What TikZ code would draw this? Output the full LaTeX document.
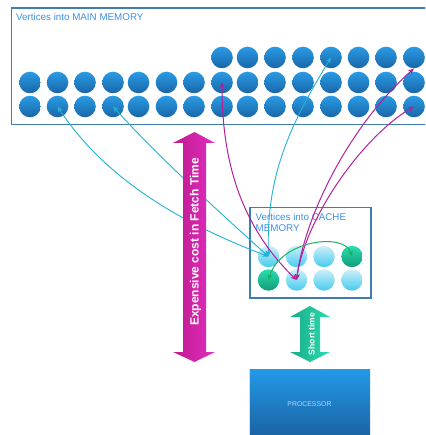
\documentclass[tikz,border=0pt]{standalone}
\usepackage{fontspec}
\setmainfont{Liberation Sans}
\usetikzlibrary{arrows.meta}

\definecolor{memtop}{HTML}{2A9BE6}
\definecolor{membot}{HTML}{1966A6}
\definecolor{cachetop}{HTML}{CDEFFA}
\definecolor{cachebot}{HTML}{46CBEE}
\definecolor{hottop}{HTML}{2ADDB2}
\definecolor{hotbot}{HTML}{129C78}
\definecolor{frame}{HTML}{3E7DB2}
\definecolor{titleblue}{HTML}{3D8FE8}
\definecolor{linkcyan}{HTML}{22B2D4}
\definecolor{linkmag}{HTML}{B4209A}
\definecolor{linkgreen}{HTML}{1EB060}
\definecolor{fetchL}{HTML}{BE1A8E}
\definecolor{fetchR}{HTML}{E22EC0}
\definecolor{shortL}{HTML}{17AC88}
\definecolor{shortR}{HTML}{2CDCB0}
\definecolor{cpuTop}{HTML}{2399E8}
\definecolor{cpuBot}{HTML}{1A60A0}
\definecolor{cpuText}{HTML}{B8D6F2}

\tikzset{
  memdot/.style={circle, inner sep=0pt, minimum size=21.6pt, top color=memtop, bottom color=membot},
  cachedot/.style={circle, inner sep=0pt, minimum size=21.4pt, top color=cachetop, bottom color=cachebot},
  hotdot/.style={circle, inner sep=0pt, minimum size=21.4pt, top color=hottop, bottom color=hotbot},
  frameline/.style={draw=frame, line width=1.2pt},
  boxtitle/.style={inner sep=0pt, text=titleblue, font=\fontsize{9.8}{11}\selectfont},
  bothtips/.style={{Stealth[length=6pt, width=5pt]}-{Stealth[length=6pt, width=5pt]}},
  cyanlink/.style={draw=linkcyan, line width=0.9pt, bothtips},
  maglink/.style={draw=linkmag, line width=1pt, bothtips},
  greenlink/.style={draw=linkgreen, line width=1pt, bothtips},
  arrowtext/.style={inner sep=0pt, text=white, rotate=90, font=\bfseries}
}

\begin{document}
\begin{tikzpicture}[x=1pt, y=-1pt]
\useasboundingbox (0,0) rectangle (425,435);
\clip (0,0) rectangle (425,435);

% main memory frame (runs off the right edge)
\draw[frameline, fill=white] (11.5,8) rectangle (440,124.5);
\node[boxtitle, anchor=base west] (maintitle) at (16,21) {Vertices into MAIN MEMORY};

% vertices held in main memory: rows 2 and 3 are full, row 1 starts at column 8
\foreach \c/\x in {1/30,2/57.5,3/85,4/113,5/138.5,6/166.5,7/194,8/222,9/247.5,10/275,11/303,12/331,13/358.5,14/386,15/414}{
  \node[memdot] (m2-\c) at (\x,82.5) {};
  \node[memdot] (m3-\c) at (\x,106.5) {};
  \ifnum\c>7
    \node[memdot] (m1-\c) at (\x,57.5) {};
  \fi
}

% cache frame and its vertices
\draw[frameline] (250,207.5) rectangle (371,298);
\node[boxtitle, anchor=base west] (cachetitleA) at (255.5,220.7) {Vertices into CACHE};
\node[boxtitle, anchor=base west] (cachetitleB) at (255.5,231.7) {MEMORY};

\node[cachedot] (k1-1) at (268.5,256.5) {};
\node[cachedot] (k1-2) at (296.5,256.5) {};
\node[cachedot] (k1-3) at (324,256.5) {};
\node[hotdot]   (k1-4) at (352,256.5) {};
\node[hotdot]   (k2-1) at (268.5,280) {};
\node[cachedot] (k2-2) at (296.5,280) {};
\node[cachedot] (k2-3) at (324,280) {};
\node[cachedot] (k2-4) at (352,280) {};

% links between main memory and cache
\draw[cyanlink] (m3-2.center) .. controls (107.5,182.5) and (188,226) .. (k1-1.center);
\draw[cyanlink] (m3-4.center) .. controls (158,156.5) and (218,211) .. (k1-1.center);
\draw[cyanlink] (m1-12.center) .. controls (290,125) and (266,175) .. (k1-1.center);

\draw[maglink] (m2-8.center) .. controls (222,160) and (240,225) .. (k2-2.center);
\draw[maglink] (m1-15.south) .. controls (350,125) and (305,215) .. (k2-2.center);
\draw[maglink] (m3-15.center) .. controls (365,135) and (306,215) .. (k2-2.center);

\draw[greenlink] (k2-1.center) .. controls (280,240) and (345,232) .. (k1-4.center);

% expensive fetch arrow
\path[left color=fetchL, right color=fetchR]
  (194.5,132) -- (215,143) -- (206,143) -- (206,352) -- (215,352) -- (194.5,362)
  -- (173,352) -- (183,352) -- (183,143) -- (173,143) -- cycle;
\node[arrowtext, font=\bfseries\fontsize{12}{14}\selectfont] (fetchtext) at (195.5,242) {Expensive cost in Fetch Time};

% short access arrow
\path[left color=shortL, right color=shortR]
  (310,306) -- (330,317) -- (320,317) -- (320,352) -- (330,352) -- (310,362)
  -- (290,352) -- (300,352) -- (300,317) -- (290,317) -- cycle;
\node[arrowtext, font=\bfseries\fontsize{8.5}{10}\selectfont] (shorttext) at (311.5,334) {Short time};

% processor
\path[top color=cpuTop, bottom color=cpuBot] (249,369) rectangle (370,440);
\draw[draw=cpuText!70!white, line width=0.8pt] (249.4,369) -- (249.4,440);
\node[inner sep=0pt, text=cpuText, font=\fontsize{6.9}{8}\selectfont] (cpu) at (309.5,404) {PROCESSOR};
\end{tikzpicture}
\end{document}
